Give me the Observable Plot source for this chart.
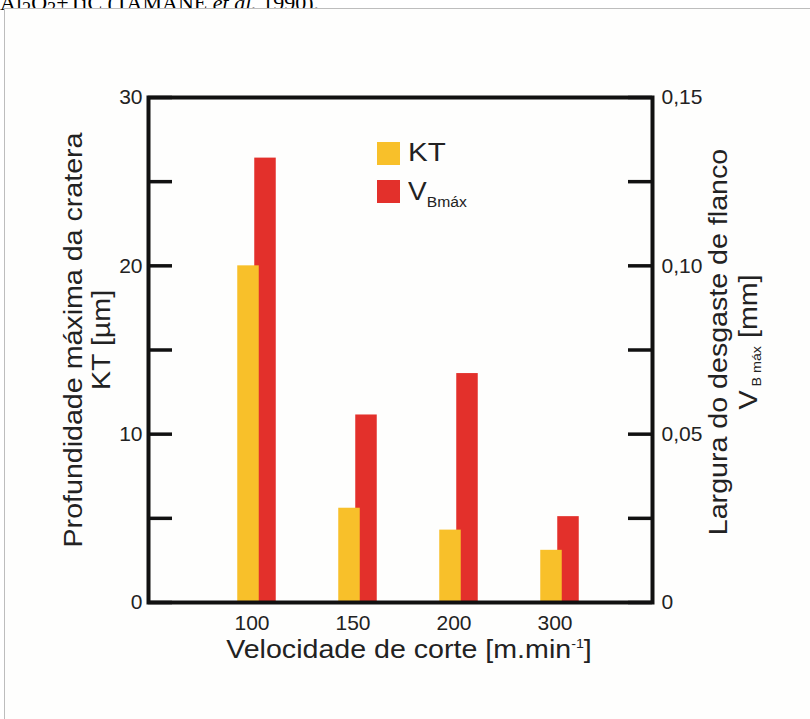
<!DOCTYPE html>
<html><head><meta charset="utf-8">
<script src="https://cdn.jsdelivr.net/npm/d3@7"></script>
<script src="https://cdn.jsdelivr.net/npm/@observablehq/plot@0.6"></script>
<style>
body{margin:0;background:#fff;width:810px;height:719px;overflow:hidden;position:relative;font-family:"Liberation Sans",Arial,sans-serif;color:#222;}
#cap{position:absolute;left:0;top:-10px;font-family:"Liberation Serif","Times New Roman",serif;font-size:22px;white-space:nowrap;color:#000;}
#box{position:absolute;left:4px;top:8px;width:900px;height:800px;border:1px solid #bdbdbd;background:#fefefd;}
#chart{position:absolute;left:0;top:0;}
.lab{position:absolute;white-space:nowrap;text-align:center;line-height:1;}
.rot{transform:translate(-50%,-50%) rotate(-90deg) scaleX(1.1);}
.sw{position:absolute;width:23px;height:23px;}
</style></head>
<body>
<div id="cap">Al<sub>2</sub>O<sub>3</sub>+TiC (TAMANE <i>et al.</i> 1990).</div>
<div id="box"></div>
<div id="chart"></div>
<div class="lab rot" style="left:87px;top:340px;font-size:26px;line-height:28px;">Profundidade máxima da cratera<br>KT [µm]</div>
<div class="lab rot" style="left:737px;top:342px;font-size:26px;line-height:30px;">Largura do desgaste de flanco<br>V<span style="font-size:13px;vertical-align:-4px;">&nbsp;B máx</span> [mm]</div>
<div class="lab" style="left:409px;top:636px;font-size:26px;transform:translateX(-50%) scaleX(1.1);">Velocidade de corte [m.min<span style="font-size:13px;vertical-align:10px;">-1</span>]</div>
<div class="sw" id="sw1" style="left:377px;top:142px;"></div>
<div class="sw" id="sw2" style="left:377px;top:180px;"></div>
<div class="lab" style="left:408px;top:140px;font-size:25px;text-align:left;transform-origin:0 0;transform:scaleX(1.18);">KT</div>
<div class="lab" style="left:408px;top:179px;font-size:25px;text-align:left;transform-origin:0 0;transform:scaleX(1.12);">V<span style="font-size:14px;vertical-align:-7px;">Bmáx</span></div>
<script>
const categories = ["100", "150", "200", "300"];
const ktValues = [20, 5.6, 4.3, 3.1];            // KT [µm], left axis
const vbValues = [0.132, 0.0557, 0.068, 0.0255];  // VBmáx [mm], right axis
const leftTicks = [0, 5, 10, 15, 20, 25, 30];
const leftTickLabels = [0, 10, 20, 30];
const rightTicks = [0, 0.025, 0.05, 0.075, 0.10, 0.125, 0.15];
const rightTickValues = [0, 0.05, 0.10, 0.15];
const rightTickLabels = ["0", "0,05", "0,10", "0,15"];
const colors = {KT: "#f8c02a", VB: "#e3302b"};

document.getElementById("sw1").style.background = colors.KT;
document.getElementById("sw2").style.background = colors.VB;

const ratio = 30 / 0.15; // right axis -> left axis units
const data = categories.map((c, i) => ({cat: c, kt: ktValues[i], vb: vbValues[i] * ratio}));
const rightData = rightTickValues.map((v, i) => ({v: v * ratio, label: rightTickLabels[i]}));

const W = 810, H = 719, mL = 148, mR = 158, mT = 97, mB = 117;
const plotW = W - mL - mR;
const tickLen = 24;

const chart = Plot.plot({
  width: W, height: H,
  marginLeft: mL, marginRight: mR, marginTop: mT, marginBottom: mB,
  style: {background: "transparent", fontFamily: "Liberation Sans, Arial, sans-serif", color: "#222"},
  x: {type: "band", domain: categories, range: [204.75, 610.75], padding: 0, axis: null},
  y: {domain: [0, 30], axis: null},
  marks: [
    Plot.barY(data, {x: "cat", y: "vb", fill: colors.VB, insetLeft: 48.25, insetRight: 31.25}),
    Plot.barY(data, {x: "cat", y: "kt", fill: colors.KT, insetLeft: 31.25, insetRight: 48.25}),
    Plot.tickY(leftTicks, {y: d => d, stroke: "#111", strokeWidth: 3.5, insetRight: plotW - tickLen}),
    Plot.tickY(rightTicks, {y: d => d * ratio, stroke: "#111", strokeWidth: 3.5, insetLeft: plotW - tickLen}),
    Plot.frame({stroke: "#111", strokeWidth: 4}),
    Plot.text(leftTickLabels, {y: d => d, text: d => String(d), frameAnchor: "left", textAnchor: "end", dx: -6, fontSize: 21, fill: "#222"}),
    Plot.text(rightData, {y: "v", text: "label", frameAnchor: "right", textAnchor: "start", dx: 9, fontSize: 21, fill: "#222"}),
    Plot.axisX({tickSize: 0, tickPadding: 13, fontSize: 21, dx: -5, label: null, fill: "#222"})
  ]
});
document.getElementById("chart").appendChild(chart);
</script>
</body></html>
